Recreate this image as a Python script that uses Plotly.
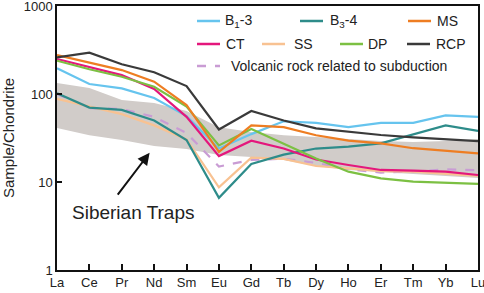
import plotly.graph_objects as go
import math

cats = ["La", "Ce", "Pr", "Nd", "Sm", "Eu", "Gd", "Tb", "Dy", "Ho", "Er", "Tm", "Yb", "Lu"]
b13 = [196, 130, 116, 90, 56, 24, 35, 49, 47, 42, 47, 47, 57, 55]
b34 = [102, 70, 66, 50, 30, 6.6, 16, 20.5, 24, 25.2, 27.5, 35, 44, 38]
ms = [277, 227, 187, 138, 75, 22, 44, 42, 34, 29.5, 27.5, 24.2, 22.7, 21.2]
ct = [250, 204, 164, 114, 55, 19.7, 29.5, 24, 18, 15.6, 13.7, 13.5, 13.1, 12]
ss = [88, 72, 59, 44, 30.5, 8.7, 18.9, 18.3, 15.2, 14.3, 13.3, 13.1, 12.5, 11.7]
dp = [239, 191, 157, 121, 72, 26, 40, 27, 18.5, 13.1, 11, 10.1, 9.8, 9.5]
rcp = [260, 295, 218, 177, 123, 39.5, 64, 50, 40.7, 37.3, 34.2, 32.2, 30.5, 29.2]
volc = [100, 69, 67.5, 55, 36, 15, 17.8, 18.4, 16.5, 14, 12.8, 13.1, 13.9, 13.6]
band_upper = [133, 117, 85.5, 79, 64, 42, 37, 34, 32.4, 30.8, 29.2, 28.5, 29.2, 30.8]
band_lower = [41, 34, 30, 25.6, 23.7, 20.3, 19.2, 17.8, 15.2, 13.7, 13, 12.3, 11.7, 11.1]

series = [
    ("B<sub>1</sub>-3", b13, "#66C4EE", "solid"),
    ("B<sub>3</sub>-4", b34, "#2E8C8A", "solid"),
    ("MS", ms, "#EE7D22", "solid"),
    ("CT", ct, "#E4177C", "solid"),
    ("SS", ss, "#F8C292", "solid"),
    ("DP", dp, "#7CC043", "solid"),
    ("RCP", rcp, "#3A3A3A", "solid"),
    ("Volcanic rock related to subduction", volc, "#C99CD4", "dash"),
]

fig = go.Figure()
fig.add_trace(go.Scatter(x=cats, y=band_lower, mode="lines", line=dict(width=0),
                         showlegend=False, hoverinfo="skip"))
fig.add_trace(go.Scatter(x=cats, y=band_upper, mode="lines", line=dict(width=0),
                         fill="tonexty", fillcolor="#D1CCC9", showlegend=False, hoverinfo="skip"))

draw_order = [7, 4, 1, 0, 3, 5, 2, 6]
for i in draw_order:
    name, vals, col, dash = series[i]
    fig.add_trace(go.Scatter(x=cats, y=vals, mode="lines", name=name,
                             line=dict(color=col, width=2.2, dash=dash), showlegend=False))

# plot area in pixels
L, R, T, B = 57, 478, 6, 270
def px(x):
    return (x - L) / (R - L)
def py(y):
    return (B - y) / (B - T)

# manual legend: (series index, line start x, text x, row y)
legend_items = [
    (0, 197, 223, 21), (1, 300, 328, 21), (2, 408, 435, 21),
    (3, 197, 224, 44), (4, 262, 292, 44), (5, 340, 366, 44), (6, 407, 434, 44),
    (7, 197, 229, 66),
]
shapes = []
annotations = []
for idx, x0, tx, y in legend_items:
    name, vals, col, dash = series[idx]
    shapes.append(dict(type="line", xref="paper", yref="paper",
                       x0=px(x0), x1=px(x0 + 23), y0=py(y), y1=py(y),
                       line=dict(color=col, width=2.5, dash=dash)))
    annotations.append(dict(xref="paper", yref="paper", x=px(tx), y=py(y),
                            text=name, showarrow=False, xanchor="left", yanchor="middle",
                            font=dict(size=14, color="#222222", family="Liberation Sans, Arial")))

annotations.append(dict(x=2.86, y=math.log10(21.5), ax=1.84, ay=math.log10(6.9),
                        xref="x", yref="y", axref="x", ayref="y", text="",
                        showarrow=True, arrowhead=2, arrowsize=1.2, arrowwidth=2,
                        arrowcolor="#111111"))
annotations.append(dict(x=2.35, y=math.log10(4.45), xref="x", yref="y",
                        text="Siberian Traps", showarrow=False,
                        xanchor="center", yanchor="middle",
                        font=dict(size=19, color="#222222", family="Liberation Sans, Arial")))

fig.update_layout(
    width=484, height=293,
    margin=dict(l=L, r=484 - R, t=T, b=293 - B, autoexpand=False),
    paper_bgcolor="white", plot_bgcolor="white",
    font=dict(family="Liberation Sans, Arial", size=13, color="#222222"),
    shapes=shapes, annotations=annotations,
    showlegend=False,
)
fig.update_xaxes(type="category", range=[0, 13], showline=True, mirror=True, automargin=False,
                 linecolor="#111111", linewidth=1.5, ticks="inside", ticklen=6,
                 tickwidth=1.5, tickcolor="#111111", showgrid=False, zeroline=False,
                 ticklabeloverflow="allow", tickfont=dict(size=13))
fig.update_yaxes(type="log", range=[0, 3], showline=True, mirror=True, automargin=False,
                 linecolor="#111111", linewidth=1.5, ticks="inside", ticklen=5,
                 tickwidth=1.5, tickcolor="#111111", showgrid=False, zeroline=False,
                 tickvals=[1, 10, 100, 1000], ticktext=["1", "10", "100", "1000"],
                 ticklabeloverflow="allow", tickfont=dict(size=13),
                 title=dict(text="Sample/Chondrite", font=dict(size=15), standoff=5))

fig.write_html("out.html", config={"displayModeBar": False},
               post_script="document.body.style.margin='0';document.body.style.padding='0';")
